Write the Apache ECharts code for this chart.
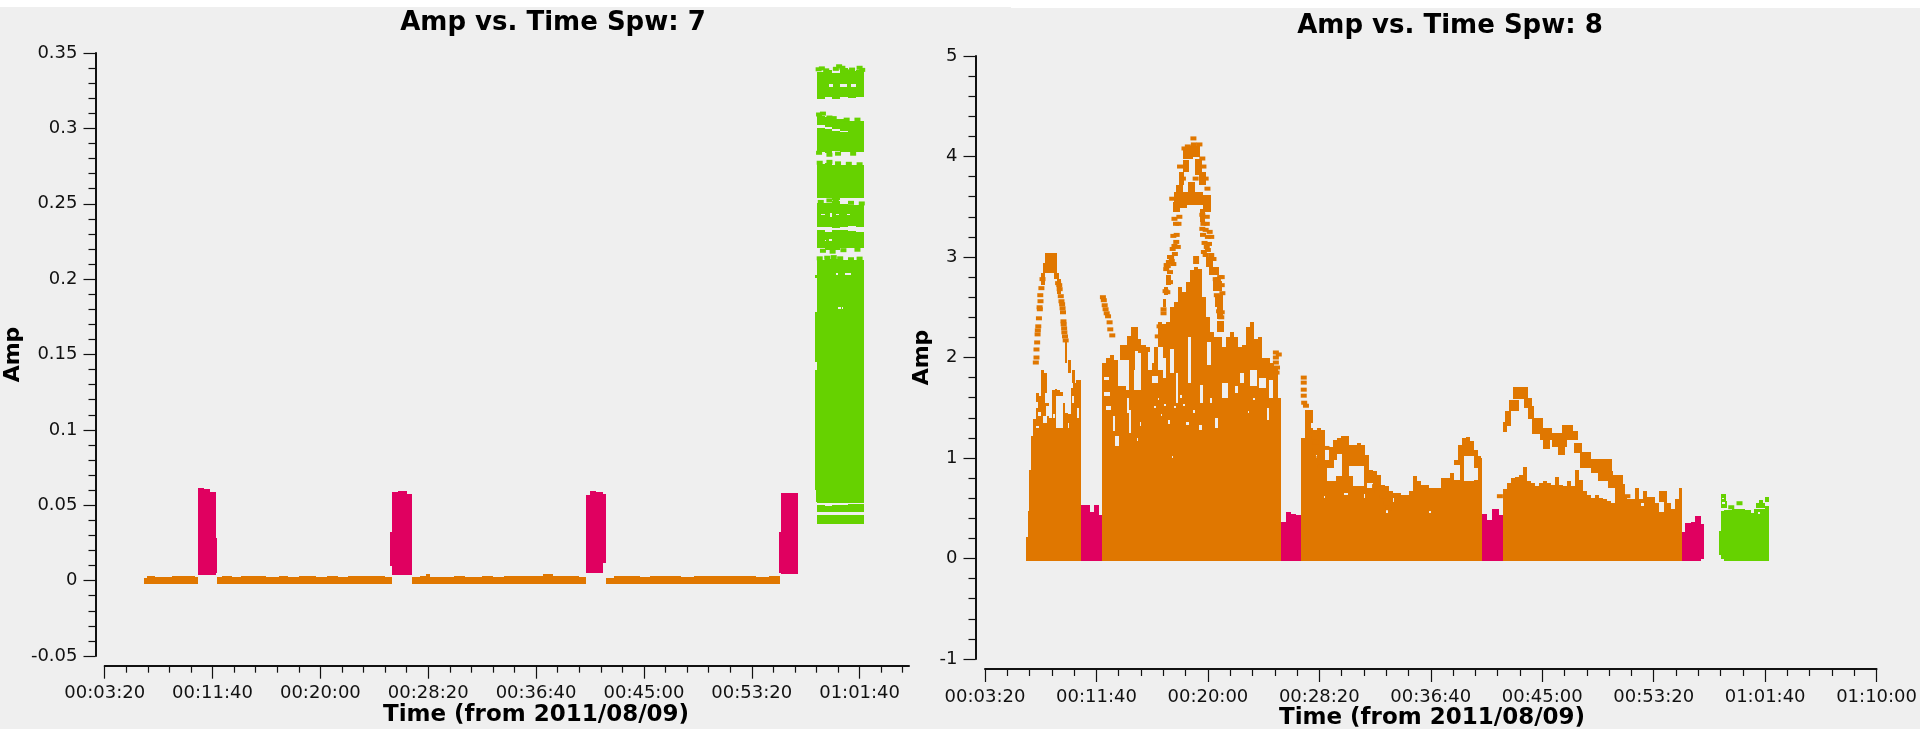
<!DOCTYPE html>
<html><head><meta charset="utf-8">
<style>html,body{margin:0;padding:0;background:#fff}#c{width:1920px;height:735px}</style>
<script src="https://cdn.jsdelivr.net/npm/echarts@6/dist/echarts.min.js"></script>
</head><body><div id="c"></div>
<script>
// ---------- tick labels ----------
const xTickSeconds7 = [200,700,1200,1700,2200,2700,3200,3700];
const xTickSeconds8 = [200,700,1200,1700,2200,2700,3200,3700,4200];
// ---------- Spw 7 : [time s, top amp], each column runs to the next time ----------
const s7OrangeA = [[382,.0016],[396,.0033],[432,.0022],[510,.0033],[620,.0022]];
const s7OrangeB = [[720,.0022],[745,.0033],[790,.0022],[830,.0033],[880,.0028],[950,.0022],[1010,.0033],[1050,.0022],[1100,.0028],[1150,.0033],[1180,.0022],[1230,.0033],[1280,.0022],[1330,.0033],[1380,.0033],[1450,.0033],[1500,.0022]];
const s7OrangeC = [[1625,.0022],[1660,.0033],[1690,.0042],[1710,.0022],[1780,.0022],[1820,.0033],[1870,.0022],[1950,.0028],[2000,.0022],[2050,.0033],[2100,.0028],[2180,.0033],[2230,.0042],[2280,.0033],[2340,.0028],[2400,.0022]];
const s7OrangeD = [[2524,.0016],[2560,.0028],[2610,.0033],[2680,.0022],[2730,.0033],[2800,.0033],[2870,.0022],[2930,.0033],[2990,.0028],[3050,.0033],[3100,.0028],[3160,.0033],[3220,.0022],[3280,.0028]];
const s7Pink = [[632,660,.0035,.0615],[660,690,.0035,.0605],[690,715,.0035,.0585],[715,722,.005,.028],
 [1525,1532,.01,.032],[1532,1560,.0035,.059],[1560,1600,.0035,.0595],[1600,1625,.0035,.0575],
 [2431,2450,.005,.057],[2450,2480,.005,.0595],[2480,2510,.005,.0585],[2510,2524,.012,.0575],
 [3326,3334,.005,.032],[3334,3416,.0045,.058]];
const s7GreenTimes = [3501,3538,3574,3610,3647,3683,3720];
const s7GreenBands = [
 {lo:[.3285,.329,.3285,.329,.3285,.329],hi:[.3375,.3385,.3365,.34,.338,.3385]},
 {lo:[.3195,.3205,.3195,.3205,.32,.3205],hi:[.3285,.3285,.3285,.3285,.3285,.3285]},
 {lo:[.3025,.301,.2995,.298,.2965,.2965],hi:[.3085,.3075,.3065,.306,.305,.305]},
 {lo:[.2845,.2835,.285,.284,.2845,.2845],hi:[.3005,.2995,.298,.2975,.296,.2965]},
 {lo:[.2535,.2535,.2525,.254,.2535,.2535],hi:[.2765,.277,.276,.2755,.276,.2755]},
 {lo:[.2345,.2345,.234,.2345,.235,.2345],hi:[.2505,.2505,.2515,.25,.2495,.2495]},
 {lo:[.2205,.2195,.2195,.2205,.2205,.2205],hi:[.2325,.2315,.2325,.2325,.232,.2315]},
 {lo:[.2045,.204,.204,.2045,.204,.204],hi:[.2125,.2135,.2135,.2125,.2125,.2125]},
 {lo:[.0515,.0515,.0515,.0515,.0515,.0515],hi:[.2045,.204,.204,.2045,.204,.204]},
 {lo:[.0456,.0456,.0456,.0456,.0456,.0456],hi:[.0502,.0498,.05,.0502,.0505,.0505]},
 {lo:[.0376,.0376,.0376,.0376,.0376,.0376],hi:[.0436,.0436,.0436,.0436,.0436,.0436]}
];
const s7GreenEdge = [[3494,3501,.201,.203],[3494,3501,.145,.178],[3494,3501,.06,.14],[3496,3501,.052,.06]];
const s7GreenGaps = [[3560,3575,.3275,.3295],[3610,3640,.3275,.3295],[3660,3682,.3275,.3295],
 [3520,3540,.2425,.2435],[3590,3605,.2425,.2435],[3640,3655,.2425,.2435],[3565,3572,.2415,.244],
 [3560,3570,.2255,.2265],[3540,3546,.225,.226],[3630,3660,.2025,.204],[3590,3600,.2025,.204],[3600,3612,.1805,.1815],[3620,3625,.1805,.1815]];
const s7GreenDots = [[3510,.3392],[3525,.3398],[3545,.3385],[3590,.3395],[3605,.3412],[3620,.3402],[3640,.3378],[3665,.339],[3700,.3402],[3712,.3388],
 [3512,.3092],[3530,.3098],[3560,.3072],[3580,.3068],[3640,.3058],[3690,.3058],
 [3512,.2838],[3560,.2825],[3600,.2832],[3670,.2832],
 [3515,.2772],[3560,.2778],[3600,.2768],[3650,.2765],[3700,.2762],
 [3520,.2512],[3560,.2522],[3590,.2516],[3660,.2506],[3710,.2502],
 [3530,.2188],[3575,.2182],[3625,.2192],[3690,.2195],
 [3515,.2138],[3550,.2142],[3580,.2146],[3610,.2138],[3660,.2132],[3700,.2136]];
// ---------- Spw 8 : solid part of the cloud ----------
const s8Block1 = [[383,.21],[392,.47],[399,.88],[405,1.22],[417,1.39],[429,1.65],[441,1.62],[453,1.88],[465,1.85],[477,1.6],[489,1.4],[501,1.68],[513,1.69],[525,1.68],[537,1.66],[549,1.55],[561,1.45],[573,1.44],[585,1.7],[597,1.75],[609,1.75],[621,1.65]];
const s8Block2 = [[723,1.95],[741,2.0],[759,2.02],[777,1.98],[795,1.72],[813,1.72],[831,1.68],[849,1.68],[867,1.68],[885,1.68],[903,1.7],[921,2.1],[939,1.95],[957,2.1],[975,2.35],[993,2.33],[1011,2.35],[1029,2.5],[1047,2.55],[1065,2.7],[1083,2.65],[1101,2.75],[1119,2.87],[1137,2.9],[1155,2.88],[1173,2.6],[1191,2.4],[1209,2.25],[1227,2.2],[1245,2.2],[1263,2.1],[1281,2.2],[1299,2.25],[1317,2.2],[1335,2.1],[1353,2.12],[1371,2.3],[1389,2.35],[1407,2.18],[1425,2.2],[1443,2.0],[1461,2.0],[1479,1.95],[1497,1.9],[1515,1.6]];
const s8Block3 = [[1618,1.2],[1636,1.48],[1654,1.48],[1672,1.28],[1690,1.3],[1708,1.28],[1726,.98],[1744,1.11],[1762,1.18],[1780,1.2],[1798,1.22],[1816,1.22],[1834,1.13],[1852,1.13],[1870,1.15],[1888,1.13],[1906,1.03],[1924,.88],[1942,.87],[1960,.83],[1978,.73],[1996,.72],[2014,.67],[2032,.65],[2050,.65],[2068,.63],[2086,.63],[2104,.67],[2122,.82],[2140,.77],[2158,.73],[2176,.73],[2194,.7],[2212,.7],[2230,.7],[2248,.8],[2266,.8],[2284,.85],[2302,.98],[2320,1.13],[2338,1.2],[2356,1.21],[2374,1.17],[2392,1.08],[2410,1.02],[2424,1.0]];
const s8Block4 = [[2522,.69],[2540,.75],[2558,.8],[2576,.81],[2594,.83],[2612,.91],[2630,.77],[2648,.75],[2666,.72],[2684,.75],[2702,.77],[2720,.75],[2738,.73],[2756,.81],[2774,.73],[2792,.72],[2810,.77],[2828,.72],[2846,.88],[2864,.78],[2882,.67],[2900,.63],[2918,.6],[2936,.63],[2954,.6],[2972,.59],[2990,.57],[3008,.55],[3026,.65],[3044,.65],[3062,.61],[3080,.59],[3098,.59],[3116,.7],[3134,.59],[3152,.67],[3170,.61],[3188,.61],[3206,.55],[3224,.67],[3242,.67],[3260,.55],[3278,.49],[3296,.59],[3314,.7]];
const s8BlockEnds = [632,1529,2431,3327];
const s8Base = -0.02;
// floating thick parts of the cloud : [t0, t1, low, high]
const s8Chunks = [
 [470,523,2.94,3.04],[462,522,2.84,2.94],[452,470,2.72,2.84],[510,530,2.78,2.84],[525,540,2.63,2.78],
 [560,566,1.95,2.15],[572,588,1.85,1.98],[592,606,1.75,1.88],[608,632,1.55,1.78],
 [856,885,2.06,2.3],[846,868,1.68,2.06],[868,871,1.88,2.06],[885,901,2.04,2.18],[901,922,1.68,2.12],[805,846,1.98,2.12],[835,856,2.0,2.21],
 [1100,1165,4.0,4.1],[1090,1135,3.98,4.06],[1087,1117,3.85,3.97],[1140,1175,3.82,3.98],[1160,1190,3.72,3.85],[1072,1095,3.72,3.85],[1110,1140,3.62,3.75],[1055,1090,3.6,3.72],[1050,1180,3.52,3.65],[1180,1215,3.45,3.62],[1045,1075,3.45,3.55],[1075,1105,3.49,3.52],[1165,1185,3.35,3.48],
 [1190,1225,2.9,3.0],[1205,1250,2.82,2.9],[1225,1262,2.66,2.76],[1230,1270,2.5,2.62],[1240,1268,2.38,2.5],[1240,1272,2.25,2.36],
 [1012,1035,2.72,2.82],[1005,1022,2.62,2.7],[1000,1012,2.5,2.58],
 [2522,2541,1.26,1.36],[2534,2561,1.32,1.47],[2549,2596,1.47,1.58],[2571,2638,1.59,1.71],[2616,2653,1.5,1.6],[2638,2661,1.39,1.52],[2656,2705,1.24,1.4],[2690,2743,1.18,1.3],[2705,2735,1.09,1.2],[2743,2810,1.11,1.25],[2772,2802,1.03,1.11],[2787,2840,1.24,1.33],[2810,2862,1.18,1.27],[2844,2877,1.05,1.15],[2869,2921,.9,1.06],[2921,3011,.85,.99],[2951,3018,.77,.87],[2996,3063,.7,.83],[3026,3071,.58,.74]
];
// gaps in the cloud : [t0, t1, low, high]
const s8Gaps = [
 [425,438,1.5,1.56],[440,452,1.42,1.46],[462,480,1.35,1.42],[470,490,1.55,1.65],[475,495,1.42,1.52],[520,548,1.3,1.62],[505,512,1.4,1.44],[572,576,1.3,1.35],[570,582,1.45,1.5],[590,600,1.55,1.62],[612,622,1.4,1.5],[440,450,1.72,1.8],[430,444,1.3,1.32],
 [733,757,1.78,1.81],[733,760,1.62,1.66],[745,765,1.48,1.52],[775,785,1.27,1.42],[782,800,1.12,1.22],[835,845,1.45,1.6],[845,856,1.25,1.48],[895,902,1.32,1.36],
 [930,950,1.88,2.05],[950,975,1.75,1.82],[975,1000,1.88,2.1],[1000,1012,1.8,2.0],[1030,1050,1.85,2.08],[1055,1065,1.55,1.85],[1112,1122,1.75,2.2],[1165,1180,1.55,1.73],[1195,1215,1.93,2.15],[1265,1290,1.6,1.75],[1232,1246,1.3,1.4],[1345,1362,1.75,1.85],[1390,1420,1.72,1.88],[1430,1460,1.7,1.8],[1475,1490,1.6,1.78],[1465,1475,1.38,1.5],
 [960,966,1.5,1.52],[975,980,1.58,1.6],[990,996,1.42,1.44],[1005,1012,1.52,1.54],[1020,1030,1.34,1.38],[1048,1058,1.5,1.52],[1075,1082,1.6,1.63],[1090,1096,1.52,1.54],[1100,1115,1.33,1.36],[1135,1142,1.45,1.48],[1160,1172,1.28,1.33],[1210,1220,1.55,1.6],[1320,1335,1.65,1.72],[1402,1412,1.58,1.6],[1378,1386,1.45,1.47],[880,886,1.17,1.2],[1040,1045,1.0,1.02],
 [1662,1684,1.3,1.35],[1736,1775,.77,.9],[1766,1803,.82,.98],[1780,1800,.98,1.04],[1833,1900,.82,.92],[1850,1900,.72,.87],[1915,1940,.7,.75],[1685,1690,1.0,1.03],[1720,1725,.6,.62],[1810,1830,.63,.65],
 [2302,2330,.78,.93],[2350,2395,.77,1.02],[2395,2410,.78,.9],[2190,2200,.45,.47],[2030,2036,.56,.6],[2000,2006,.45,.48],[1900,1906,.6,.64],
 [3225,3246,.46,.56],[3145,3155,.52,.55]
];
// scattered points of the cloud : [t, amp]
const s8Dots = [
 [428,1.95],[431,2.08],[434,2.15],[436,2.23],[439,2.31],[442,2.39],[446,2.48],[449,2.56],[453,2.69],[458,2.78],[445,2.5],[448,2.62],[431,2.0],[437,2.27],
 [528,2.74],[535,2.68],[540,2.61],[546,2.53],[550,2.45],[552,2.36],[555,2.29],[559,2.21],[533,2.72],[543,2.56],[556,2.25],[562,2.17],[548,2.49],[553,2.33],
 [729,2.6],[733,2.57],[737,2.52],[741,2.48],[746,2.44],[752,2.41],[759,2.35],[762,2.28],[771,2.22],
 [1135,4.18],[1162,4.12],[1137,4.12],[1147,2.99],[1147,2.95],[1095,4.08],[1110,4.1],[1175,3.98],[1180,3.9],[1075,3.9],[1088,3.78],[1145,3.78],[1190,3.78],[1198,3.68],[1040,3.58],
 [1057,3.33],[1068,3.33],[1072,3.4],[1050,3.38],[1045,3.21],[1060,3.22],[1050,3.11],[1065,3.1],[1035,3.0],[1052,3.03],[1030,3.0],[1020,2.91],[1045,2.93],[1013,2.88],[1030,2.85],[1042,3.08],[1025,2.95],[1058,3.15],[1038,2.96],[1015,2.92],
 [1001,2.48],[1001,2.44],[983,2.31],[975,2.21],[1018,2.65],[1030,2.75],[1010,2.66],
 [1175,3.42],[1195,3.4],[1180,3.33],[1195,3.33],[1190,3.27],[1178,3.22],[1200,3.2],[1185,3.14],[1195,3.1],[1190,3.02],[1200,3.07],[1205,3.13],[1215,3.02],[1225,2.98],[1175,3.28],[1208,3.25],[1182,3.05],[1215,3.2],
 [1245,2.78],[1255,2.8],[1262,2.72],[1240,2.62],[1262,2.45],[1260,2.4],[1262,2.8],[1235,2.78],[1265,2.64],[1250,2.46],
 [1505,2.05],[1505,2.0],[1505,1.95],[1510,1.9],[1508,1.85],[1518,2.03],
 [1630,1.8],[1630,1.75],[1630,1.68],[1630,1.62],[1632,1.55],[1640,1.52],
 [1680,1.2],[1684,1.15],[1684,1.08],[1700,1.0],[1705,.92],[1732,1.1],
 [1950,.72],[1960,.68],[1985,.62],[2000,.55],[2010,.5],[1970,.7],[3082,.62],[2510,.62]
];
const s8Pink = [[632,671,-.02,.53],[671,691,-.02,.46],[691,710,-.02,.53],[710,723,-.02,.43],
 [1529,1550,-.02,.36],[1550,1574,-.02,.46],[1574,1595,-.02,.44],[1595,1618,-.02,.43],
 [2431,2452,-.02,.44],[2452,2475,-.02,.38],[2475,2505,-.02,.49],[2505,2522,-.02,.43],
 [3327,3342,-.02,.26],[3342,3369,-.02,.35],[3369,3384,-.02,.36],[3384,3414,-.02,.42],[3414,3424,.0,.34]];
const s8Green = [[3495,3501,.03,.27],[3501,3516,0,.47],[3516,3550,-.02,.48],[3550,3610,-.02,.49],[3610,3637,-.02,.48],[3637,3652,-.02,.45],[3652,3719,-.02,.49],
 [3500,3530,.5,.57],[3503,3525,.57,.64],[3660,3700,.5,.55],[3672,3692,.55,.58],[3700,3719,.56,.61],[3700,3719,.49,.52]];
const s8GreenDots = [[3585,.55],[3548,.51]];
const s8GreenGaps = [[3508,3518,.54,.56],[3508,3516,.59,.6],[3668,3678,.44,.46]];

// ---------- helpers that build the library's data from the lists above ----------
const T0 = 200;                       // axis origin in seconds
const hms = s => [Math.floor(s/3600),Math.floor(s/60)%60,s%60].map(n=>String(n).padStart(2,'0')).join(':');
const columns = (tops,end,lo) => tops.map((p,i)=>[p[0], i+1<tops.length?tops[i+1][0]:end, lo, p[1]]);
function carve(rects,gaps){
  let out = rects;
  gaps.forEach(g=>{
    const next=[];
    out.forEach(r=>{
      if(g[1]<=r[0]||g[0]>=r[1]||g[3]<=r[2]||g[2]>=r[3]){next.push(r);return;}
      if(r[0]<g[0]) next.push([r[0],g[0],r[2],r[3]]);
      if(r[1]>g[1]) next.push([g[1],r[1],r[2],r[3]]);
      const a=Math.max(r[0],g[0]), b=Math.min(r[1],g[1]);
      if(r[2]<g[2]) next.push([a,b,r[2],g[2]]);
      if(r[3]>g[3]) next.push([a,b,g[3],r[3]]);
    });
    out=next;
  });
  return out;
}
const shift = rects => rects.map(r=>[r[0]-T0,r[1]-T0,r[2],r[3]]);
const renderRect = (p,api)=>{
  const a=api.coord([api.value(0),api.value(3)]), b=api.coord([api.value(1),api.value(2)]);
  const x=Math.round(a[0]), y=Math.round(a[1]);
  return {type:'rect',shape:{x,y,width:Math.round(b[0])-x,height:Math.round(b[1])-y},style:{fill:api.visual('color')}};
};
const rectSeries=(name,rects,color,axis)=>({name,type:'custom',renderItem:renderRect,coordinateSystem:'cartesian2d',
  xAxisIndex:axis,yAxisIndex:axis,data:shift(rects),encode:{x:[0,1],y:[2,3]},itemStyle:{color},animation:false,clip:false,silent:true});
const dotSeries=(name,pts,color,axis)=>({name,type:'scatter',xAxisIndex:axis,yAxisIndex:axis,symbol:'rect',symbolSize:[6,4],
  data:pts.map(p=>[p[0]-T0,p[1]]),itemStyle:{color,opacity:1},animation:false,silent:true});

const ORANGE='#e07700', PINK='#e00060', GREEN='#66d200', INK='#111111';
const s7Orange=[...columns(s7OrangeA,632,-.0022),...columns(s7OrangeB,1532,-.0022),...columns(s7OrangeC,2431,-.0022),...columns(s7OrangeD,3331,-.0022)];
const s7Green=[...s7GreenEdge];
s7GreenBands.forEach(b=>b.hi.forEach((h,i)=>s7Green.push([s7GreenTimes[i],s7GreenTimes[i+1],b.lo[i],h])));
const s8Orange=carve([...columns(s8Block1,s8BlockEnds[0],s8Base),...columns(s8Block2,s8BlockEnds[1],s8Base),...columns(s8Block3,s8BlockEnds[2],s8Base),...columns(s8Block4,s8BlockEnds[3],s8Base),...s8Chunks],s8Gaps);

const xAxis=(gridIndex,ticks,max,offset)=>({type:'value',gridIndex,position:'bottom',min:0,max,interval:500,offset,
  axisLine:{show:true,onZero:false,lineStyle:{color:INK,width:2}},
  axisTick:{show:true,length:13,customValues:ticks.map(t=>t-T0),lineStyle:{color:INK,width:1.2}},
  minorTick:{show:true,splitNumber:5,length:7,lineStyle:{color:INK,width:1.2}},
  axisLabel:{show:true,customValues:ticks.map(t=>t-T0),margin:19,fontFamily:'DejaVu Sans',fontSize:18,color:INK,formatter:v=>hms(v+T0)},
  splitLine:{show:false},minorSplitLine:{show:false}});
const yAxis=(gridIndex,min,max,interval,offset,gap,fmt)=>({type:'value',gridIndex,min,max,interval,offset,position:'left',
  name:'Amp',nameLocation:'middle',nameGap:gap,nameTextStyle:{fontFamily:'DejaVu Sans',fontWeight:'bold',fontSize:22,color:'#000'},
  axisLine:{show:true,onZero:false,lineStyle:{color:INK,width:2}},
  axisTick:{show:true,length:12,lineStyle:{color:INK,width:1.2}},
  minorTick:{show:true,splitNumber:5,length:7,lineStyle:{color:INK,width:1.2}},
  axisLabel:{show:true,margin:18,padding:[3,0,0,0],fontFamily:'DejaVu Sans',fontSize:18,color:INK,formatter:fmt},
  splitLine:{show:false},minorSplitLine:{show:false}});
const boldText=(text,x,y,size)=>({type:'text',x,y,silent:true,style:{text,x:0,y:0,align:'center',verticalAlign:'middle',fontFamily:'DejaVu Sans',fontWeight:'bold',fontSize:size,fill:'#000'}});

const chart=echarts.init(document.getElementById('c'),null,{renderer:'canvas'});
chart.setOption({
  animation:false,backgroundColor:'#efefef',
  graphic:[
    {type:'rect',shape:{x:0,y:0,width:1011,height:7},style:{fill:'#fff'},silent:true},
    {type:'rect',shape:{x:1011,y:0,width:909,height:8},style:{fill:'#fff'},silent:true},
    {type:'rect',shape:{x:0,y:729,width:1920,height:6},style:{fill:'#fff'},silent:true},
    boldText('Amp vs. Time Spw: 7',553,23,26),
    boldText('Amp vs. Time Spw: 8',1450,26,26),
    boldText('Time (from 2011/08/09)',536,715,23),
    boldText('Time (from 2011/08/09)',1432,718,23)
  ],
  grid:[{left:104.7,width:804.3,top:53,height:603},{left:985,width:894,top:56,height:603}],
  xAxis:[xAxis(0,xTickSeconds7,3729,9.7),xAxis(1,xTickSeconds8,4000,10)],
  yAxis:[yAxis(0,-0.05,0.35,0.05,9.2,71,v=>String(+v.toFixed(2))),yAxis(1,-1,5,1,9.5,42,v=>String(v))],
  series:[
    rectSeries('Spw 7 orange',s7Orange,ORANGE,0),
    rectSeries('Spw 7 pink',s7Pink,PINK,0),
    rectSeries('Spw 7 green',carve(s7Green,s7GreenGaps),GREEN,0),
    dotSeries('Spw 7 green points',s7GreenDots,GREEN,0),
    rectSeries('Spw 8 orange',s8Orange,ORANGE,1),
    dotSeries('Spw 8 orange points',s8Dots,ORANGE,1),
    rectSeries('Spw 8 pink',s8Pink,PINK,1),
    rectSeries('Spw 8 green',carve(s8Green,s8GreenGaps),GREEN,1),
    dotSeries('Spw 8 green points',s8GreenDots,GREEN,1)
  ]
});
</script></body></html>
